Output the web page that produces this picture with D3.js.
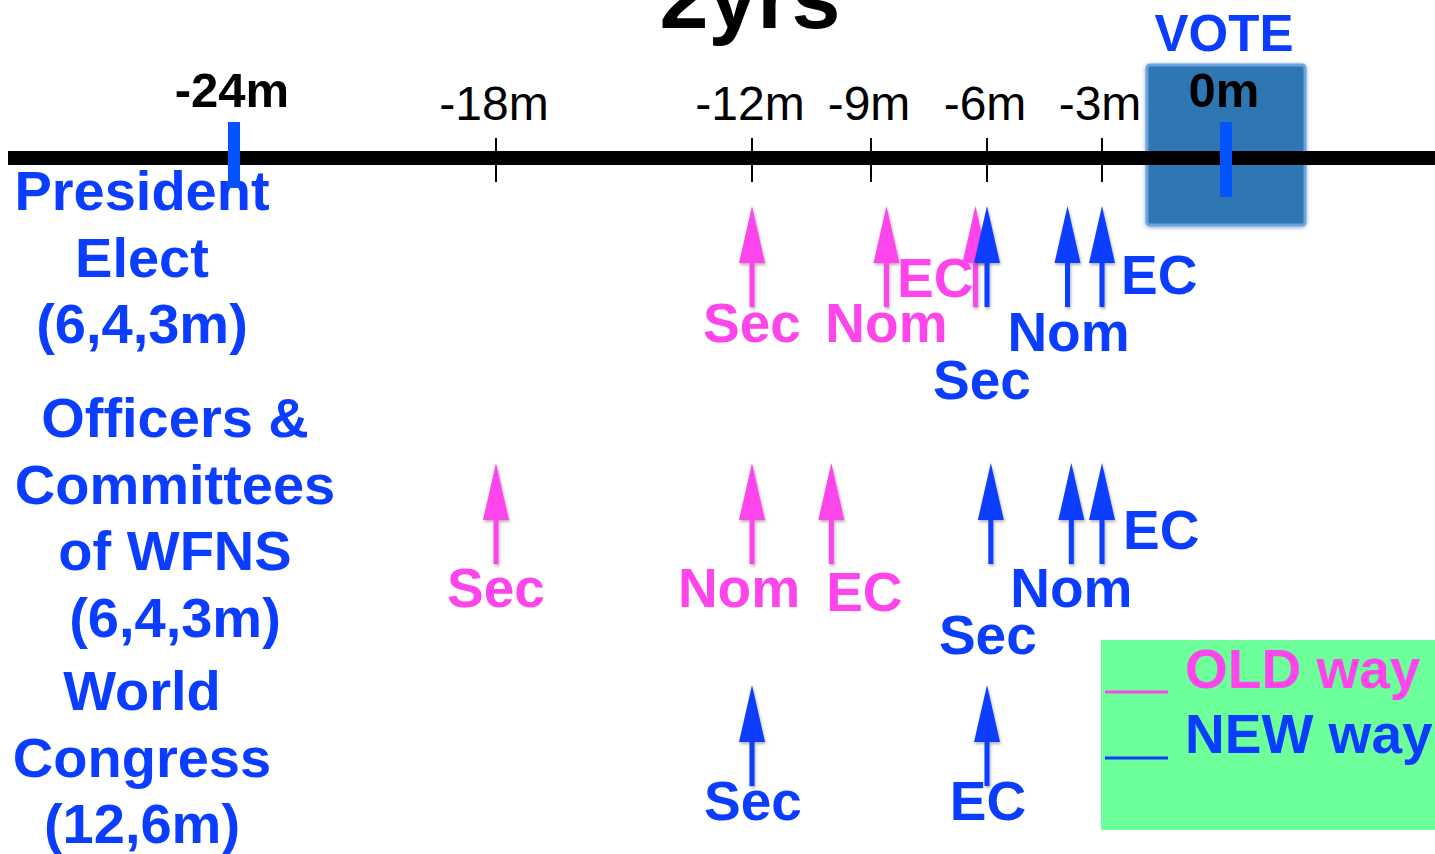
<!DOCTYPE html>
<html>
<head>
<meta charset="utf-8">
<script src="https://cdn.jsdelivr.net/npm/d3@7"></script>
<style>
  html, body { margin: 0; padding: 0; background: #fff; overflow: hidden; }
  svg { display: block; font-family: "Liberation Sans", Arial, Helvetica, sans-serif; }
</style>
</head>
<body>
<svg id="chart" width="1435" height="854"></svg>
<script>
// ---------- DATA ----------
const title = "2yrs";
const tickMonths = [-24, -18, -12, -9, -6, -3, 0];
const tickLabels = ["-24m", "-18m", "-12m", "-9m", "-6m", "-3m", "0m"];
const majorMonths = [-24, 0];          // bold labels + blue markers
const voteLabel = "VOTE";

const rowNames = ["President Elect", "Officers & Committees", "World Congress"];
const rowLabelLines = [
  ["President", "Elect", "(6,4,3m)"],
  ["Officers &", "Committees", "of WFNS", "(6,4,3m)"],
  ["World", "Congress", "(12,6m)"]
];

const seriesNames = ["OLD way", "NEW way"];

// events: row index, label, month
const oldRow   = [0, 0, 0, 1, 1, 1];
const oldLabel = ["Sec", "Nom", "EC", "Sec", "Nom", "EC"];
const oldMonth = [-12, -8.6, -6.3, -18, -12, -10];

const newRow   = [0, 0, 0, 1, 1, 1, 2, 2];
const newLabel = ["Sec", "Nom", "EC", "Sec", "Nom", "EC", "Sec", "EC"];
const newMonth = [-6, -3.9, -3, -5.9, -3.8, -3, -12, -6];

// ---------- LAYOUT / STYLE ----------
const W = 1435, H = 854;
const PINK = "#fd45eb", BLUE = "#0a3dff", BAR_BLUE = "#0552ff";
const axisY = 158;
const rowTipY = [206, 463, 685];
const arrowLen = 101, headLen = 57, headHalf = 13, shaftW = 5;

// label placement per event (dx from arrow, dy from arrow tip to baseline, anchor)
const oldLabelPos = [
  [0, 136, "middle"], [0, 136, "middle"], [-2, 91, "end"],
  [0, 144, "middle"], [-13, 144, "middle"], [33, 148, "middle"]
];
const newLabelPos = [
  [-5, 193, "middle"], [1, 145, "middle"], [19, 88, "start"],
  [-3, 191, "middle"], [0, 144, "middle"], [21, 86, "start"],
  [1, 135, "middle"], [1, 135, "middle"]
];

const svg = d3.select("#chart");

const defs = svg.append("defs");
const f = defs.append("filter").attr("id", "shadow").attr("x", "-50%").attr("y", "-20%").attr("width", "200%").attr("height", "150%");
f.append("feDropShadow").attr("dx", 1).attr("dy", 2).attr("stdDeviation", 1.4).attr("flood-color", "#000").attr("flood-opacity", 0.3);
const fb = defs.append("filter").attr("id", "boxshadow").attr("x", "-10%").attr("y", "-10%").attr("width", "120%").attr("height", "120%");
fb.append("feDropShadow").attr("dx", 0).attr("dy", 1).attr("stdDeviation", 2).attr("flood-color", "#3a6fb0").attr("flood-opacity", 0.6);

// time scale (piecewise, as on the drawing)
const x = d3.scaleLinear()
  .domain(tickMonths)
  .range([234, 496, 752, 871, 987, 1102, 1226]);

// ---------- TITLE ----------
svg.append("text")
  .attr("x", 750).attr("y", 28)
  .attr("text-anchor", "middle")
  .attr("font-size", 88).attr("font-weight", "bold").attr("fill", "#000")
  .text(title);

// ---------- VOTE box ----------
svg.append("rect")
  .attr("x", x(0) - 79).attr("y", 65)
  .attr("width", 158).attr("height", 160)
  .attr("rx", 3)
  .attr("fill", "#2f77b3")
  .attr("stroke", "#6aa3de").attr("stroke-width", 3)
  .attr("filter", "url(#boxshadow)");

svg.append("text")
  .attr("x", x(0) - 2).attr("y", 51)
  .attr("text-anchor", "middle")
  .attr("font-size", 51).attr("font-weight", "bold").attr("fill", BLUE)
  .text(voteLabel);

// ---------- AXIS ----------
svg.append("line")
  .attr("x1", 8).attr("x2", W)
  .attr("y1", axisY).attr("y2", axisY)
  .attr("stroke", "#000").attr("stroke-width", 14);

const minor = tickMonths.filter(m => !majorMonths.includes(m));
svg.append("g").selectAll("line").data(minor).join("line")
  .attr("x1", d => x(d)).attr("x2", d => x(d))
  .attr("y1", axisY - 20).attr("y2", axisY + 24)
  .attr("stroke", "#000").attr("stroke-width", 2);

svg.append("g").selectAll("text").data(tickMonths).join("text")
  .attr("x", d => majorMonths.includes(d) ? x(d) - 2 : x(d) - 2)
  .attr("y", d => majorMonths.includes(d) ? 107 : 120)
  .attr("text-anchor", "middle")
  .attr("font-size", d => majorMonths.includes(d) ? 49 : 48)
  .attr("font-weight", d => majorMonths.includes(d) ? "bold" : "normal")
  .attr("fill", "#000")
  .text((d, i) => tickLabels[i]);

// ---------- ROW LABELS ----------
const rowLabelX = [142, 175, 142];
const rowLabelY0 = [210, 437, 710];
const lineH = 66.5;
rowLabelLines.forEach((lines, r) => {
  svg.append("g").selectAll("text").data(lines).join("text")
    .attr("x", rowLabelX[r])
    .attr("y", (d, i) => rowLabelY0[r] + i * lineH)
    .attr("text-anchor", "middle")
    .attr("font-size", 56).attr("font-weight", "bold").attr("fill", BLUE)
    .text(d => d);
});

// blue markers at -24m and 0m
svg.append("g").selectAll("rect").data(majorMonths).join("rect")
  .attr("x", d => x(d) - 6).attr("y", 122)
  .attr("width", 12)
  .attr("height", d => d === 0 ? 75 : 66)
  .attr("fill", BAR_BLUE);

// ---------- ARROWS ----------
function arrowPath(cx, tip) {
  const p = d3.path();
  p.moveTo(cx, tip);
  p.lineTo(cx + headHalf, tip + headLen);
  p.lineTo(cx + shaftW / 2, tip + headLen);
  p.lineTo(cx + shaftW / 2, tip + arrowLen);
  p.lineTo(cx - shaftW / 2, tip + arrowLen);
  p.lineTo(cx - shaftW / 2, tip + headLen);
  p.lineTo(cx - headHalf, tip + headLen);
  p.closePath();
  return p.toString();
}

function drawSeries(rows, labels, months, pos, color) {
  const data = months.map((m, i) => ({ m, row: rows[i], label: labels[i], pos: pos[i] }));
  const g = svg.append("g");
  g.selectAll("path").data(data).join("path")
    .attr("d", d => arrowPath(x(d.m), rowTipY[d.row]))
    .attr("fill", color)
    .attr("filter", "url(#shadow)");
  g.selectAll("text").data(data).join("text")
    .attr("x", d => x(d.m) + d.pos[0])
    .attr("y", d => rowTipY[d.row] + d.pos[1])
    .attr("text-anchor", d => d.pos[2])
    .attr("font-size", 55).attr("font-weight", "bold").attr("fill", color)
    .text(d => d.label);
}

drawSeries(oldRow, oldLabel, oldMonth, oldLabelPos, PINK);
drawSeries(newRow, newLabel, newMonth, newLabelPos, BLUE);

// ---------- LEGEND ----------
const lg = svg.append("g");
lg.append("rect").attr("x", 1101).attr("y", 640).attr("width", 340).attr("height", 190).attr("fill", "#6cff9a");
const legColors = [PINK, BLUE];
lg.selectAll("line").data(seriesNames).join("line")
  .attr("x1", 1105).attr("x2", 1168)
  .attr("y1", (d, i) => 692 + i * 66).attr("y2", (d, i) => 692 + i * 66)
  .attr("stroke", (d, i) => legColors[i]).attr("stroke-width", 3);
lg.selectAll("text").data(seriesNames).join("text")
  .attr("x", 1185).attr("y", (d, i) => 688 + i * 65)
  .attr("font-size", 55).attr("font-weight", "bold")
  .attr("fill", (d, i) => legColors[i])
  .text(d => d);
</script>
</body>
</html>
